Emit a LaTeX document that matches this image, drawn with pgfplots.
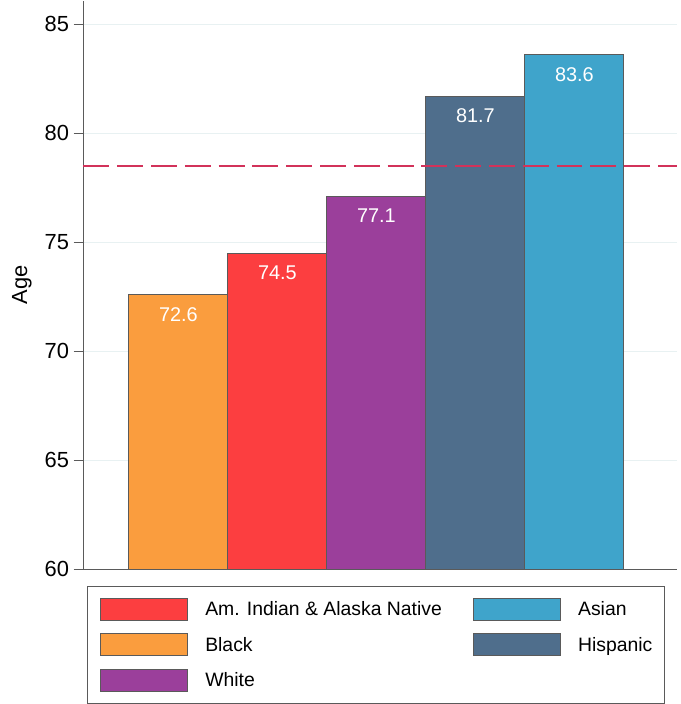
\documentclass[border=0pt]{standalone}
\usepackage{pgfplots}
\pgfplotsset{compat=1.18}
\usepackage{fontspec}
\setmainfont{Liberation Sans}
\definecolor{cBlack}{HTML}{FA9D3E}
\definecolor{cAmInd}{HTML}{FC3E40}
\definecolor{cWhite}{HTML}{9B3F9B}
\definecolor{cHisp}{HTML}{4F6E8C}
\definecolor{cAsian}{HTML}{3FA4CB}
\definecolor{cEdge}{HTML}{5A5A5A}
\definecolor{cRef}{HTML}{D2325A}
\definecolor{cGrid}{HTML}{E8F1F2}
\begin{document}
\begin{tikzpicture}
\begin{axis}[
  name=ax,
  scale only axis,
  width=597pt, height=572pt,
  xmin=0.041, xmax=6.035,
  ymin=60, ymax=86.09,
  axis x line=bottom, axis y line=left,
  axis line style={-, draw=cEdge, line width=1.3pt},
  xtick=\empty,
  ytick={60,65,70,75,80,85},
  ymajorgrids, grid style={draw=cGrid, line width=1pt},
  tick align=outside, major tick length=10pt,
  y tick style={draw=cEdge, line width=1.3pt},
  /pgf/number format/assume math mode=true,
  yticklabel style={font=\fontsize{22}{26}\selectfont, text=black, xshift=-1pt},
  ylabel={Age},
  every axis y label/.style={at={(axis description cs:-0.104,0.5)}, rotate=90, anchor=center, font=\fontsize{22}{26}\selectfont},
  clip=false,
  legend columns=2,
  legend cell align=left,
  legend image code/.code={\draw[#1] (0pt,-11pt) rectangle (88pt,11pt);},
  legend style={at={(axis description cs:0.0067,-0.029)}, anchor=north west,
    draw=cEdge, line width=1pt, inner xsep=12pt, inner ysep=11.5pt,
    font=\fontsize{19.5}{22}\selectfont,
    nodes={inner xsep=0pt, inner ysep=0pt},
    row sep=13pt,
    /tikz/every odd column/.append style={column sep=17pt},
    /tikz/every even column/.append style={column sep=31pt}},
  nodes near coords={\pgfmathprintnumber[fixed,fixed zerofill,precision=1]{\pgfplotspointmeta}},
  every node near coord/.append style={font=\fontsize{20}{24}\selectfont, text=white, anchor=north, yshift=-9pt},
]
\addplot[ybar, bar width=1, bar shift=0pt, fill=cBlack, draw=cEdge, line width=1pt, forget plot] coordinates {(1,72.6)};
\addplot[ybar, bar width=1, bar shift=0pt, fill=cAmInd, draw=cEdge, line width=1pt, forget plot] coordinates {(2,74.5)};
\addplot[ybar, bar width=1, bar shift=0pt, fill=cWhite, draw=cEdge, line width=1pt, forget plot] coordinates {(3,77.1)};
\addplot[ybar, bar width=1, bar shift=0pt, fill=cHisp, draw=cEdge, line width=1pt, forget plot] coordinates {(4,81.7)};
\addplot[ybar, bar width=1, bar shift=0pt, fill=cAsian, draw=cEdge, line width=1pt, forget plot] coordinates {(5,83.6)};
\addplot[cRef, line width=2pt, dash pattern=on 26pt off 8pt, forget plot, nodes near coords={}] coordinates {(0.041,78.5) (6.035,78.5)};
\addlegendimage{fill=cAmInd, draw=cEdge, line width=1pt}
\addlegendentry{Am. Indian \& Alaska Native}
\addlegendimage{fill=cAsian, draw=cEdge, line width=1pt}
\addlegendentry{Asian}
\addlegendimage{fill=cBlack, draw=cEdge, line width=1pt}
\addlegendentry{Black}
\addlegendimage{fill=cHisp, draw=cEdge, line width=1pt}
\addlegendentry{Hispanic}
\addlegendimage{fill=cWhite, draw=cEdge, line width=1pt}
\addlegendentry{White}
\end{axis}
\path (ax.south west) ++(-84pt,-132pt) rectangle (ax.north east);
\end{tikzpicture}
\end{document}
